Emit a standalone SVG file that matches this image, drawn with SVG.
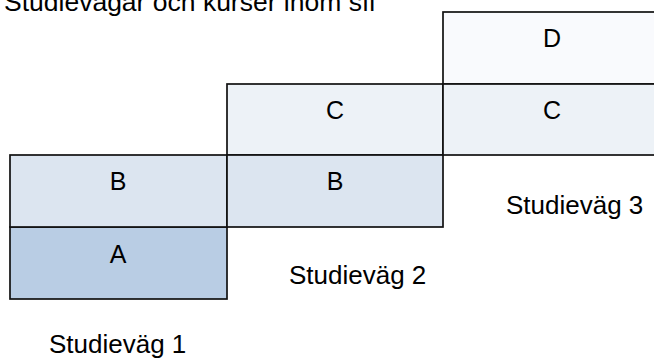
<svg xmlns="http://www.w3.org/2000/svg" width="654" height="361" viewBox="0 0 654 361">
<style>
.box{stroke:#111;stroke-width:1.7}
.a{fill:#b9cde4}
.b{fill:#dce5f0}
.c{fill:#edf2f7}
.d{fill:#f9fafd}
.lbl{font-family:"Liberation Sans",Arial,sans-serif;font-size:25px;fill:#000;text-anchor:middle}
.txt{font-family:"Liberation Sans",Arial,sans-serif;font-size:26px;fill:#000}
</style>
<rect width="654" height="361" fill="#fff"/>
<text class="txt" x="4" y="11" style="font-size:26.5px">Studievägar och kurser inom sfi</text>
<g id="connectors"></g>
<g id="node-A"><rect class="box a" x="10" y="227" width="217" height="72"/><text class="lbl" x="118" y="263">A</text></g>
<g id="node-B1"><rect class="box b" x="10" y="155" width="217" height="72"/><text class="lbl" x="118" y="190">B</text></g>
<g id="node-C2"><rect class="box c" x="227" y="84" width="216" height="71"/><text class="lbl" x="335" y="119">C</text></g>
<g id="node-B2"><rect class="box b" x="227" y="155" width="216" height="72"/><text class="lbl" x="335" y="190">B</text></g>
<g id="node-D"><rect class="box d" x="443" y="12" width="220" height="72"/><text class="lbl" x="552" y="47">D</text></g>
<g id="node-C3"><rect class="box c" x="443" y="84" width="220" height="71"/><text class="lbl" x="552" y="119">C</text></g>
<text class="txt" x="506" y="214">Studieväg 3</text>
<text class="txt" x="289" y="284">Studieväg 2</text>
<text class="txt" x="49" y="353">Studieväg 1</text>
</svg>
